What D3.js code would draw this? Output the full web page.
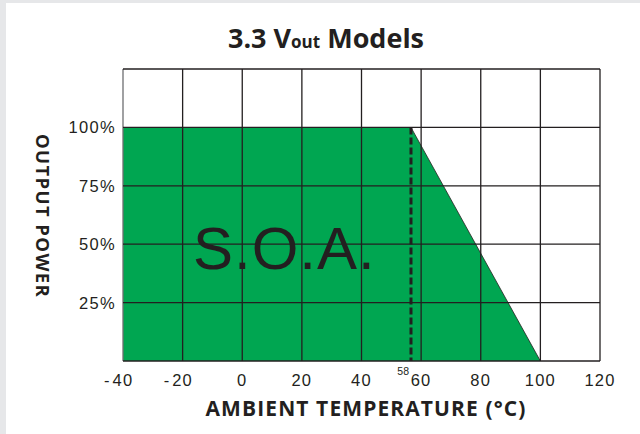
<!DOCTYPE html>
<html><head><meta charset="utf-8">
<script src="https://cdn.jsdelivr.net/npm/d3@7"></script>
<style>html,body{margin:0;padding:0;background:#e6e7e9;}</style>
</head><body>
<svg id="c" width="640" height="434"></svg>
<script>
const xTicks = [-40, -20, 0, 20, 40, 60, 80, 100, 120];
const yTicks = [25, 50, 75, 100];
const yTickLabels = ["25%", "50%", "75%", "100%"];
const curveTemp = [-40, 56.6, 100];
const curvePower = [100, 100, 0];
const derateTemp = 56.6;
const derateLabel = "58";

const svg = d3.select("#c");
svg.append("rect").attr("x", 6).attr("y", 3).attr("width", 634).attr("height", 431).attr("fill", "#fff");

const x = d3.scaleLinear().domain([-40, 120]).range([123, 600]);
const y = d3.scaleLinear().domain([0, 125]).range([361, 69]);
const ink = "#231f20";
const sans = "Liberation Sans, Arial, sans-serif";
const bold = "Open Sans, Lato, sans-serif";

// area
const pts = curveTemp.map((t, i) => [t, curvePower[i]]);
const area = d3.area().x(d => x(d[0])).y0(y(0)).y1(d => y(d[1]));
svg.append("path").datum(pts).attr("d", area).attr("fill", "#00a651");

// grid
const g = svg.append("g");
xTicks.forEach(t => g.append("line").attr("x1", x(t)).attr("x2", x(t)).attr("y1", y(125)).attr("y2", y(0))
  .attr("stroke", t === -40 ? "#6d6e71" : ink).attr("stroke-width", 1.3));
[0, 25, 50, 75, 100, 125].forEach(v => g.append("line").attr("x1", x(-40)).attr("x2", x(120)).attr("y1", y(v)).attr("y2", y(v))
  .attr("stroke", ink).attr("stroke-width", v === 0 ? 1.6 : 1.3));

// derating slope edge
svg.append("line").attr("x1", x(derateTemp)).attr("y1", y(100)).attr("x2", x(100)).attr("y2", y(0))
  .attr("stroke", ink).attr("stroke-width", 0.8);

// dashed line
svg.append("line").attr("x1", x(derateTemp)).attr("x2", x(derateTemp)).attr("y1", y(100)).attr("y2", y(0))
  .attr("stroke", ink).attr("stroke-width", 3).attr("stroke-dasharray", "7,3");

// x tick labels: digits centred on tick, minus hanging left
const xa = svg.append("g").attr("font-family", sans).attr("font-size", 16.5).attr("fill", ink);
xTicks.forEach(t => {
  const tx = xa.append("text").attr("x", x(t)).attr("y", 386).attr("text-anchor", "middle")
    .attr("letter-spacing", 1.2).text(Math.abs(t));
  if (t < 0) {
    const w = tx.node().getComputedTextLength();
    xa.append("text").attr("x", x(t) - w / 2 - 3).attr("y", 386).attr("text-anchor", "end").text("-");
  }
});
svg.append("text").attr("x", x(derateTemp) - 2).attr("y", 375).attr("text-anchor", "end")
  .attr("font-family", sans).attr("font-size", 10.5).attr("fill", ink).text(derateLabel);
yTicks.forEach((v, i) => svg.append("text").attr("x", 116).attr("y", y(v) + 6).attr("text-anchor", "end")
  .attr("font-family", sans).attr("font-size", 16.5).attr("letter-spacing", 1.3).attr("fill", ink).text(yTickLabels[i]));

// SOA
svg.append("text").attr("x", 193).attr("y", 269)
  .attr("font-family", sans).attr("font-size", 60).attr("letter-spacing", 1).attr("fill", ink).text("S.O.A.");

// titles
const t = svg.append("text").attr("x", 326).attr("y", 48).attr("text-anchor", "middle")
  .attr("font-family", bold).attr("font-weight", "bold").attr("font-size", 27).attr("fill", ink);
t.append("tspan").text("3.3 V");
t.append("tspan").attr("font-size", 17).text("out");
t.append("tspan").text(" Models");

svg.append("text").attr("x", 366).attr("y", 416).attr("text-anchor", "middle")
  .attr("font-family", bold).attr("font-weight", "bold").attr("font-size", 21).attr("letter-spacing", 1.1).attr("fill", ink)
  .text("AMBIENT TEMPERATURE (°C)");
svg.append("text").attr("transform", "translate(36,216) rotate(90)").attr("text-anchor", "middle")
  .attr("font-family", bold).attr("font-weight", "bold").attr("font-size", 18.5).attr("letter-spacing", 1.4).attr("fill", ink)
  .text("OUTPUT POWER");
</script>
</body></html>
